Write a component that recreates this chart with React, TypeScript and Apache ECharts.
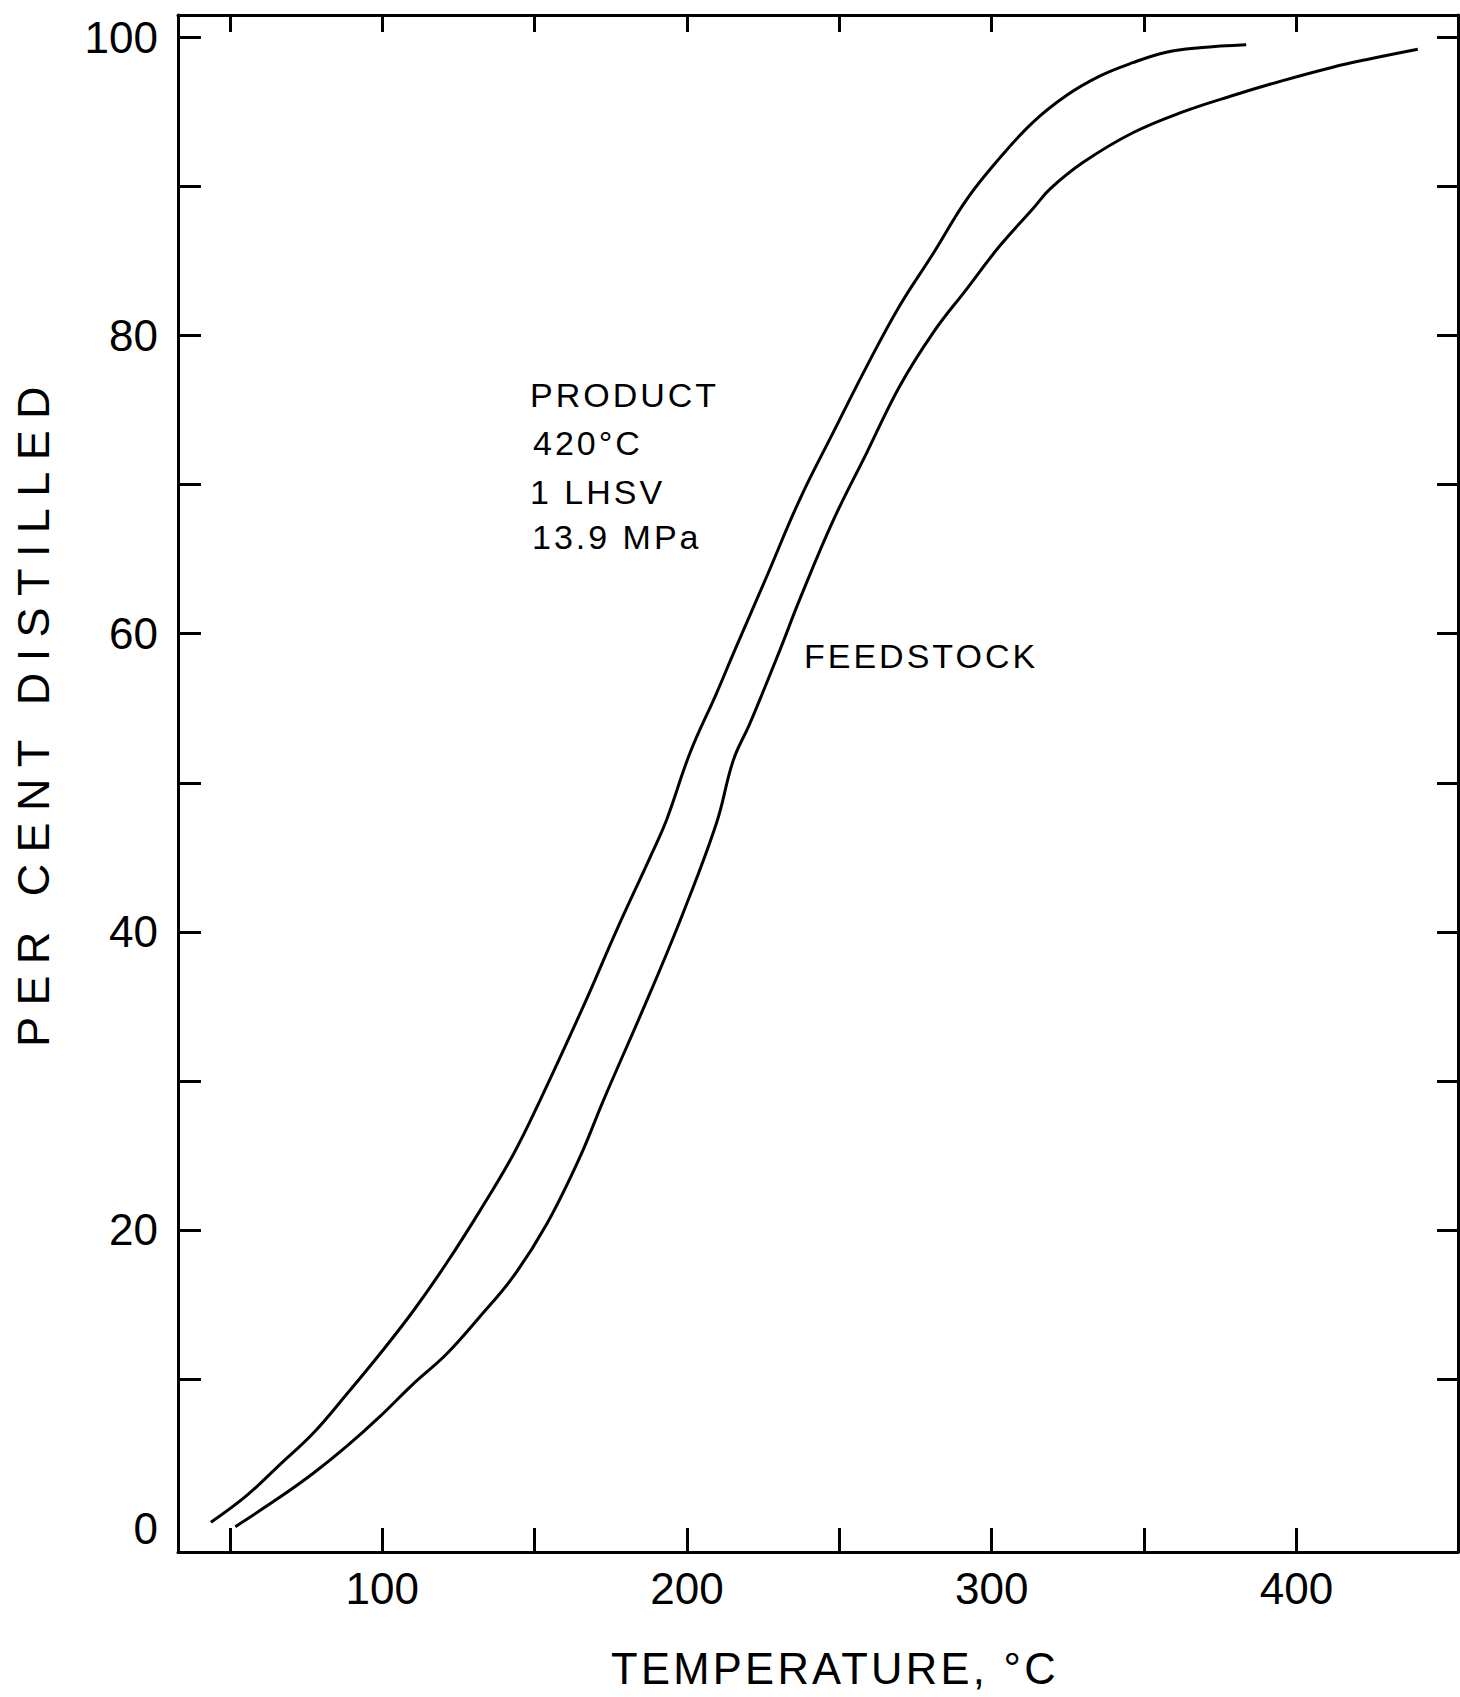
import React, { useEffect, useRef } from 'react';
import * as echarts from 'echarts';

// Product curve (420°C, 1 LHSV, 13.9 MPa)
const productTemp = [43.8, 55.6, 66.6, 77.5, 88.4, 99.3, 110.3, 121.2, 132.1, 143.1, 151.8, 166, 176.9, 187.9, 193.3, 201, 209.7, 215.7, 226.1, 237, 248, 258.9, 269.8, 280.8, 291.7, 302.6, 313.5, 324.5, 335.4, 346.3, 357.3, 368.2, 383.5];
const productPct = [0.4, 2.2, 4.3, 6.4, 9.0, 11.7, 14.6, 17.8, 21.3, 25.1, 28.7, 35.0, 40.1, 45.0, 47.5, 52.0, 56.0, 58.9, 63.8, 69.0, 73.5, 77.9, 82.0, 85.5, 89.1, 91.9, 94.3, 96.1, 97.4, 98.3, 99.0, 99.3, 99.5];

// Feedstock curve
const feedTemp = [51.8, 66.6, 77.5, 88.4, 99.3, 110.3, 121.2, 132.1, 143.1, 154, 164.9, 172.6, 187.9, 198.8, 209.7, 215.2, 220.7, 230.5, 237, 248, 258.9, 269.8, 280.8, 291.7, 302.6, 313.5, 319, 329.9, 346.3, 362.7, 379.1, 395.5, 411.9, 422.8, 439.8];
const feedPct = [0.1, 2.1, 3.7, 5.5, 7.5, 9.7, 11.7, 14.2, 16.9, 20.4, 24.9, 28.7, 35.9, 41.3, 47.3, 51.5, 54.0, 58.9, 62.3, 67.6, 72.1, 76.6, 80.2, 83.1, 86.0, 88.5, 89.8, 91.6, 93.6, 95.0, 96.1, 97.1, 98.0, 98.5, 99.2];

// Axis ticks and labels
const xTickValues = [50, 100, 150, 200, 250, 300, 350, 400];
const xLabelValues = [100, 200, 300, 400];
const yTickValues = [10, 20, 30, 40, 50, 60, 70, 80, 90, 100];
const yLabelValues = [0, 20, 40, 60, 80, 100];

// Texts
const xTitle = 'TEMPERATURE, °C';
const yTitle = 'PER CENT DISTILLED';
const productLines = ['PRODUCT', '420°C', '1 LHSV', '13.9 MPa'];
const feedLabel = 'FEEDSTOCK';

const FONT = 'Liberation Sans';

export default function App() {
  const ref = useRef<HTMLDivElement>(null);

  useEffect(() => {
    if (!ref.current) return;
    const chart = echarts.init(ref.current, null, { renderer: 'svg' });
    const axisLine = { show: true, onZero: false, lineStyle: { color: '#000', width: 3 } };
    const tickStyle = { color: '#000', width: 3 };
    const annotationY = [395, 443, 492, 537];
    const annotationX = [530, 533, 530, 532];

    chart.setOption({
      animation: false,
      backgroundColor: '#fff',
      grid: { left: 178, right: 2, top: 15, bottom: 145, containLabel: false },
      xAxis: [
        {
          type: 'value', position: 'bottom', min: 33, max: 453,
          axisLine, splitLine: { show: false },
          axisTick: { show: true, inside: true, length: 24, customValues: xTickValues, lineStyle: tickStyle },
          axisLabel: { show: true, customValues: xLabelValues, fontSize: 44, fontFamily: FONT, color: '#000', margin: 14 },
        },
        {
          type: 'value', position: 'top', min: 33, max: 453,
          axisLine, splitLine: { show: false },
          axisTick: { show: true, inside: true, length: 17, customValues: xTickValues, lineStyle: tickStyle },
          axisLabel: { show: false },
        },
      ],
      yAxis: [
        {
          type: 'value', position: 'left', min: -1.6, max: 101.5,
          axisLine, splitLine: { show: false },
          axisTick: { show: true, inside: true, length: 23, customValues: yTickValues, lineStyle: tickStyle },
          axisLabel: { show: true, customValues: yLabelValues, fontSize: 44, fontFamily: FONT, color: '#000', margin: 20 },
        },
        {
          type: 'value', position: 'right', min: -1.6, max: 101.5,
          axisLine, splitLine: { show: false },
          axisTick: { show: true, inside: true, length: 21, customValues: yTickValues, lineStyle: tickStyle },
          axisLabel: { show: false },
        },
      ],
      series: [
        {
          name: 'Product', type: 'line', xAxisIndex: 0, yAxisIndex: 0,
          data: productTemp.map((t, i) => [t, productPct[i]]),
          showSymbol: false, symbol: 'none', smooth: 0.4,
          lineStyle: { color: '#000', width: 3 },
        },
        {
          name: 'Feedstock', type: 'line', xAxisIndex: 0, yAxisIndex: 0,
          data: feedTemp.map((t, i) => [t, feedPct[i]]),
          showSymbol: false, symbol: 'none', smooth: 0.4,
          lineStyle: { color: '#000', width: 3 },
        },
      ],
      graphic: [
        {
          type: 'text', x: 835, y: 1669,
          style: { text: xTitle, fontSize: 43.5, fontFamily: FONT, fill: '#000', align: 'center', verticalAlign: 'middle' },
        },
        {
          type: 'text', x: 33, y: 711, rotation: Math.PI / 2,
          style: { text: yTitle, fontSize: 45, fontFamily: FONT, fill: '#000', align: 'center', verticalAlign: 'middle' },
        },
        ...productLines.map((t, i) => ({
          type: 'text', x: annotationX[i], y: annotationY[i],
          style: { text: t, fontSize: 34, fontFamily: FONT, fill: '#000', align: 'left', verticalAlign: 'middle' },
        })),
        {
          type: 'text', x: 804, y: 656,
          style: { text: feedLabel, fontSize: 34, fontFamily: FONT, fill: '#000', align: 'left', verticalAlign: 'middle' },
        },
      ],
    });
    return () => chart.dispose();
  }, []);

  return (
    <>
      <style>{`
        text[style*="45px"] { letter-spacing: 11.4px; }
        text[style*="43.5px"] { letter-spacing: 3.3px; }
        text[style*="34px"] { letter-spacing: 3px; }
      `}</style>
      <div
        ref={ref}
        style={{ position: 'fixed', left: 0, top: 0, width: 1460, height: 1697, background: '#fff' }}
      />
    </>
  );
}
